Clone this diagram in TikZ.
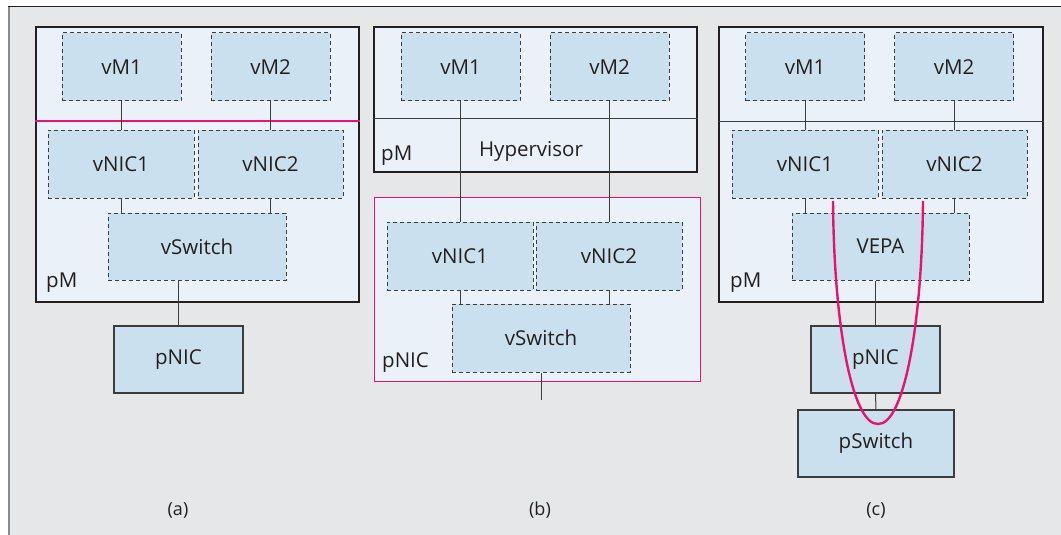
\documentclass[tikz,border=0pt]{standalone}
\usepackage{fontspec}
\setmainfont{Open Sans}

\definecolor{bggray}{HTML}{E6E7E8}
\definecolor{framegray}{HTML}{8A8A8A}
\definecolor{hostblue}{HTML}{EAF1F8}
\definecolor{vblue}{HTML}{CBE0EE}
\definecolor{darkline}{HTML}{231F20}
\definecolor{linegray}{HTML}{3C3C3C}
\definecolor{layerpink}{HTML}{E6146F}

\tikzset{
  vbox/.style={draw=linegray, dash pattern=on 4pt off 3pt, fill=vblue, line width=1pt,
    minimum height=68pt, inner sep=0pt, text=darkline},
  pbox/.style={draw=linegray, fill=vblue, line width=1.1pt, minimum height=67pt,
    inner sep=0pt, text=darkline},
  host/.style={draw=darkline, fill=hostblue, line width=2.6pt, inner sep=0pt},
  wire/.style={draw=linegray, line width=1pt},
  tag/.style={anchor=base west, inner sep=0pt, text=darkline},
  hairpin/.style={draw=layerpink, line width=2.4pt},
  caption/.style={text=darkline, font=\fontsize{18}{21}\selectfont},
}

\begin{document}
\begin{tikzpicture}[x=1pt, y=-1pt, node font=\fontsize{20.5}{24}\selectfont]
    \useasboundingbox (0,0) rectangle (1061,535);

    % Frame
    \fill[bggray] (8,7) rectangle (1061,535);
    \draw[framegray, line width=2pt] (8.5,535) -- (8.5,7);
    \draw[darkline, line width=1pt] (8,7) -- (1061,7);

    % Panel (a)
    \node[host, minimum width=323pt, minimum height=275pt] (pma) at (197.5,164.5) {};
    \draw[layerpink, line width=2.4pt] (pma.west |- 0,121) -- (pma.east |- 0,121);
    \node[vbox, minimum width=119pt] (vm1a) at (121.5,67) {vM1};
    \node[vbox, minimum width=119pt] (vm2a) at (270.5,67) {vM2};
    \node[vbox, minimum width=146pt] (vnic1a) at (121,164) {vNIC1};
    \node[vbox, minimum width=145pt] (vnic2a) at (270.5,164) {vNIC2};
    \node[vbox, minimum width=178pt, minimum height=67pt] (vswa) at (197,246.5) {vSwitch};
    \node[pbox, minimum width=129pt] (pnica) at (178.5,359.5) {pNIC};
    \node[tag] (pmla) at (46,287) {pM};

    \draw[wire] (vm1a.south) -- (vm1a.south |- vnic1a.north);
    \draw[wire] (vm2a.south) -- (vm2a.south |- vnic2a.north);
    \draw[wire] (vnic1a.south) -- (vnic1a.south |- vswa.north);
    \draw[wire] (vnic2a.south) -- (vnic2a.south |- vswa.north);
    \draw[wire] (pnica.north |- vswa.south) -- (pnica.north);

    % Panel (b)
    \node[host, minimum width=323pt, minimum height=145pt] (pmb) at (535.5,99.5) {};
    \draw[linegray, line width=1pt] (pmb.west |- 0,118) -- (pmb.east |- 0,118);
    \node[vbox, minimum width=119pt] (vm1b) at (460.5,67) {vM1};
    \node[vbox, minimum width=119pt] (vm2b) at (609.5,67) {vM2};
    \node[anchor=base, inner sep=0pt, text=darkline] (hypb) at (531,156) {Hypervisor};
    \node[tag] (pmlb) at (381,160) {pM};

    \node[draw=layerpink, fill=hostblue, line width=1pt, inner sep=0pt,
      minimum width=326pt, minimum height=184pt] (pnicb) at (537,289) {};
    \node[vbox, minimum width=146pt] (vnic1b) at (460,256) {vNIC1};
    \node[vbox, minimum width=146pt] (vnic2b) at (609,256) {vNIC2};
    \node[vbox, minimum width=178pt] (vswb) at (541,338) {vSwitch};
    \node[tag] (pniclb) at (382,367) {pNIC};
    \coordinate (outb) at (vswb.south |- 0,400);

    \draw[wire] (vm1b.south) -- (vm1b.south |- vnic1b.north);
    \draw[wire] (vm2b.south) -- (vm2b.south |- vnic2b.north);
    \draw[wire] (vnic1b.south) -- (vnic1b.south |- vswb.north);
    \draw[wire] (vnic2b.south) -- (vnic2b.south |- vswb.north);
    \draw[wire] (vswb.south) -- (outb);

    % Panel (c)
    \node[host, minimum width=324pt, minimum height=275pt] (pmc) at (881,164.5) {};
    \draw[linegray, line width=1pt] (pmc.west |- 0,121) -- (pmc.east |- 0,121);
    \node[vbox, minimum width=119pt] (vm1c) at (805,67) {vM1};
    \node[vbox, minimum width=119pt] (vm2c) at (954,67) {vM2};
    \node[vbox, minimum width=146pt] (vnic1c) at (805,164) {vNIC1};
    \node[vbox, minimum width=145pt] (vnic2c) at (954.5,164) {vNIC2};
    \node[vbox, minimum width=177pt, minimum height=67pt] (vepac) at (880.5,246.5) {VEPA};
    \node[tag] (pmlc) at (730,287) {pM};
    \node[pbox, minimum width=129pt] (pnicc) at (875.5,359.5) {pNIC};
    \node[pbox, minimum width=156pt] (pswc) at (876,443.5) {pSwitch};

    \draw[wire] (vm1c.south) -- (vm1c.south |- vnic1c.north);
    \draw[wire] (vm2c.south) -- (vm2c.south |- vnic2c.north);
    \draw[wire] (vnic1c.south) -- (vnic1c.south |- vepac.north);
    \draw[wire] (vnic2c.south) -- (vnic2c.south |- vepac.north);
    \draw[wire] (pnicc.north |- vepac.south) -- (pnicc.north);
    \draw[wire] (pnicc.south) -- (pswc.north);

    % Hairpin through the pSwitch
    \coordinate (hpin) at (833,201);
    \coordinate (hpout) at (923,201);
    \draw[hairpin] (hpin) .. controls (834,330) and (853,425) .. (878,424)
        .. controls (903,425) and (922,330) .. (hpout);

    % Captions
    \node[caption] (capa) at (178,510) {(a)};
    \node[caption] (capb) at (540,510) {(b)};
    \node[caption] (capc) at (876,510) {(c)};
\end{tikzpicture}
\end{document}
